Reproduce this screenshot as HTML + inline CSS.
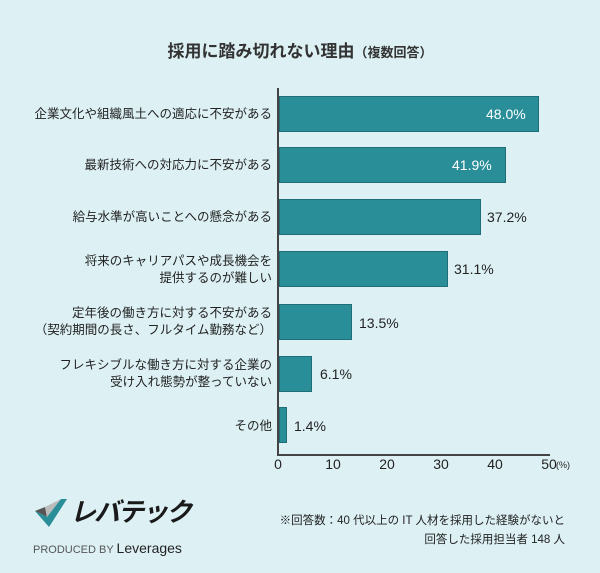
<!DOCTYPE html>
<html><head><meta charset="utf-8"><style>
body{margin:0;width:600px;height:573px;background:#ddf1f5;font-family:"Liberation Sans","Noto Sans CJK JP",sans-serif;position:relative;overflow:hidden;color:#222}
.a{position:absolute}
.lab{position:absolute;right:328px;text-align:right;font-size:12.5px;line-height:17px;color:#222}
.bar{position:absolute;left:279px;height:36px;background:#2a8e99;border:1px solid #1f6d76;box-sizing:border-box}
.v{position:absolute;font-size:14px}
.t{position:absolute;top:456px;font-size:14px;width:40px;text-align:center}
</style></head><body>
<div class="a" style="left:0;width:600px;top:37px;text-align:center;font-size:17px;font-weight:bold;color:#333">採用に踏み切れない理由<span style="font-size:13px">（複数回答）</span></div>
<div class="a" style="left:277px;top:88px;width:2px;height:368px;background:#444"></div>
<div class="a" style="left:277px;top:454px;width:273px;height:2px;background:#444"></div>

<div class="bar" style="top:96px;width:260px"></div><div class="v" style="left:486px;top:106px;color:#fff">48.0%</div>
<div class="bar" style="top:147px;width:227px"></div><div class="v" style="left:452px;top:157px;color:#fff">41.9%</div>
<div class="bar" style="top:199px;width:202px"></div><div class="v" style="left:487px;top:209px">37.2%</div>
<div class="bar" style="top:251px;width:169px"></div><div class="v" style="left:454px;top:261px">31.1%</div>
<div class="bar" style="top:304px;width:73px"></div><div class="v" style="left:359px;top:315px">13.5%</div>
<div class="bar" style="top:356px;width:33px"></div><div class="v" style="left:320px;top:366px">6.1%</div>
<div class="bar" style="top:407px;width:8px"></div><div class="v" style="left:294px;top:418px">1.4%</div>

<div class="lab" style="top:106px">企業文化や組織風土への適応に不安がある</div>
<div class="lab" style="top:157px">最新技術への対応力に不安がある</div>
<div class="lab" style="top:209px">給与水準が高いことへの懸念がある</div>
<div class="lab" style="top:253px">将来のキャリアパスや成長機会を<br>提供するのが難しい</div>
<div class="lab" style="top:305px">定年後の働き方に対する不安がある<br>（契約期間の長さ、フルタイム勤務など）</div>
<div class="lab" style="top:357px">フレキシブルな働き方に対する企業の<br>受け入れ態勢が整っていない</div>
<div class="lab" style="top:418px">その他</div>

<div class="t" style="left:258px">0</div><div class="t" style="left:313px">10</div><div class="t" style="left:367px">20</div><div class="t" style="left:421px">30</div><div class="t" style="left:475px">40</div><div class="t" style="left:529px">50</div>
<div class="a" style="left:556px;top:460px;font-size:9px">(%)</div>

<svg class="a" style="left:33px;top:497px" width="40" height="32"><polygon points="2,14 12,10 14,20" fill="#555"/><polygon points="12,10 28,2 14,20" fill="#bbb"/><polygon points="2,14 14,20 28,2 34,2 16,30" fill="#2a8e99"/></svg>
<div class="a" style="left:70px;top:492px;font-size:26px;font-weight:bold;font-style:italic;color:#1a1a1a;letter-spacing:-2px">レバテック</div>
<div class="a" style="left:33px;top:540px;font-size:11px;color:#555">PRODUCED BY <span style="font-size:14px;color:#222">Leverages</span></div>
<div class="a" style="right:35px;top:512px;font-size:11.5px;line-height:19px;text-align:right">※回答数：40 代以上の IT 人材を採用した経験がないと<br>回答した採用担当者 148 人</div>
</body></html>
